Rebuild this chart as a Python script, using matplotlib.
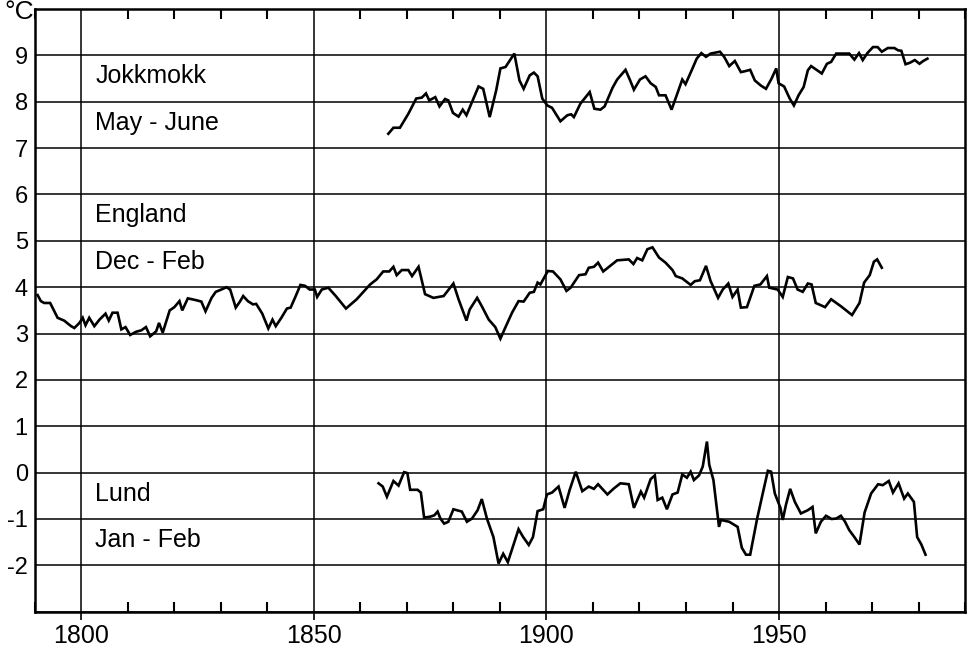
import matplotlib.pyplot as plt
from matplotlib.ticker import MultipleLocator

plt.rcParams['font.family'] = ['Liberation Sans', 'DejaVu Sans']
plt.rcParams['axes.unicode_minus'] = False

# Jokkmokk, May-June
jok_years = [1866.0, 1867.1, 1868.5, 1870.3, 1872.0, 1873.2, 1874.1, 1874.8, 1876.1, 1877.0,
             1878.2, 1878.9, 1879.9, 1881.1, 1882.0, 1882.8, 1885.4, 1886.4, 1887.8, 1889.2,
             1890.1, 1891.2, 1893.1, 1894.2, 1895.1, 1896.4, 1897.3, 1898.1, 1899.1, 1900.2,
             1901.2, 1903.0, 1904.5, 1905.3, 1905.9, 1907.3, 1909.3, 1910.3, 1911.6, 1912.5,
             1914.2, 1915.2, 1917.0, 1918.0, 1918.8, 1920.1, 1921.3, 1922.4, 1923.5, 1924.2,
             1925.6, 1926.9, 1928.0, 1929.2, 1929.9, 1931.4, 1932.3, 1933.3, 1934.3, 1935.3,
             1937.3, 1938.2, 1939.3, 1940.5, 1941.8, 1942.7, 1943.8, 1944.8, 1946.1, 1947.2,
             1948.4, 1949.4, 1949.9, 1951.1, 1952.3, 1953.2, 1954.2, 1955.3, 1956.2, 1956.9,
             1958.2, 1959.2, 1960.3, 1961.2, 1962.3, 1965.1, 1966.2, 1967.2, 1968.0, 1969.0,
             1970.2, 1971.2, 1972.1, 1973.4, 1974.8, 1975.6, 1976.3, 1977.2, 1978.1, 1979.2,
             1980.2, 1981.0, 1981.9]
jok_temp = [7.31, 7.44, 7.44, 7.74, 8.07, 8.09, 8.18, 8.03, 8.10, 7.90,
            8.06, 8.03, 7.76, 7.68, 7.83, 7.71, 8.33, 8.28, 7.67, 8.25,
            8.72, 8.75, 9.04, 8.46, 8.28, 8.57, 8.63, 8.55, 8.07, 7.92,
            7.87, 7.58, 7.71, 7.73, 7.67, 7.96, 8.21, 7.85, 7.83, 7.90,
            8.30, 8.48, 8.69, 8.46, 8.26, 8.48, 8.55, 8.40, 8.32, 8.14,
            8.14, 7.83, 8.14, 8.48, 8.38, 8.72, 8.93, 9.05, 8.97, 9.04,
            9.08, 8.97, 8.77, 8.88, 8.64, 8.66, 8.69, 8.46, 8.35, 8.28,
            8.50, 8.72, 8.40, 8.33, 8.07, 7.92, 8.14, 8.32, 8.68, 8.77,
            8.68, 8.61, 8.82, 8.86, 9.04, 9.04, 8.91, 9.05, 8.90, 9.05,
            9.18, 9.18, 9.08, 9.16, 9.16, 9.11, 9.10, 8.81, 8.84, 8.90,
            8.82, 8.88, 8.93]

# England, Dec-Feb
eng_years = [1790.6, 1791.3, 1792.0, 1793.3, 1794.9, 1796.3, 1797.8, 1798.5, 1799.6, 1800.3,
             1800.9, 1801.7, 1802.8, 1803.9, 1805.2, 1805.9, 1806.7, 1807.8, 1808.6, 1809.5,
             1810.5, 1811.8, 1812.9, 1813.9, 1814.8, 1816.1, 1816.7, 1817.5, 1819.0, 1820.0,
             1821.1, 1821.7, 1822.9, 1824.7, 1825.8, 1826.7, 1828.0, 1828.9, 1830.1, 1831.2,
             1832.0, 1833.2, 1834.1, 1834.8, 1835.8, 1836.9, 1837.6, 1838.9, 1840.2, 1841.1,
             1841.8, 1843.0, 1844.2, 1845.0, 1846.1, 1847.1, 1848.1, 1849.1, 1850.2, 1850.7,
             1851.7, 1853.1, 1854.7, 1856.9, 1859.2, 1862.1, 1863.5, 1864.9, 1866.2, 1867.1,
             1867.8, 1868.9, 1870.3, 1871.1, 1872.5, 1873.9, 1875.7, 1877.9, 1880.0, 1881.1,
             1882.8, 1883.5, 1885.1, 1886.1, 1887.6, 1889.0, 1890.1, 1891.2, 1892.6, 1894.0,
             1895.1, 1896.4, 1897.3, 1898.1, 1898.7, 1900.3, 1901.4, 1903.0, 1904.3, 1905.2,
             1907.0, 1908.4, 1909.1, 1910.2, 1911.1, 1912.2, 1915.2, 1917.7, 1918.7, 1919.5,
             1920.6, 1921.7, 1922.8, 1923.5, 1924.2, 1925.6, 1927.1, 1927.8, 1929.2, 1931.0,
             1931.9, 1933.0, 1934.3, 1935.3, 1936.9, 1937.9, 1939.1, 1940.0, 1941.1, 1941.8,
             1943.1, 1944.7, 1946.0, 1947.4, 1947.9, 1949.7, 1950.8, 1951.9, 1953.0, 1954.0,
             1955.1, 1956.2, 1957.0, 1957.9, 1959.9, 1961.2, 1963.3, 1965.7, 1967.3, 1968.3,
             1969.5, 1970.4, 1971.1, 1972.1]
eng_temp = [3.83, 3.70, 3.66, 3.66, 3.34, 3.28, 3.16, 3.12, 3.23, 3.34,
            3.18, 3.34, 3.16, 3.30, 3.43, 3.28, 3.45, 3.45, 3.09, 3.14,
            2.97, 3.04, 3.07, 3.14, 2.94, 3.05, 3.23, 3.02, 3.50, 3.57,
            3.70, 3.50, 3.76, 3.72, 3.69, 3.48, 3.77, 3.90, 3.95, 4.00,
            3.95, 3.56, 3.69, 3.81, 3.70, 3.63, 3.64, 3.43, 3.11, 3.30,
            3.16, 3.34, 3.54, 3.56, 3.81, 4.05, 4.03, 3.95, 3.95, 3.79,
            3.95, 3.99, 3.81, 3.54, 3.74, 4.06, 4.17, 4.34, 4.34, 4.44,
            4.26, 4.37, 4.37, 4.24, 4.44, 3.85, 3.77, 3.81, 4.08, 3.74,
            3.28, 3.52, 3.77, 3.59, 3.30, 3.14, 2.89, 3.14, 3.45, 3.70,
            3.69, 3.88, 3.90, 4.10, 4.06, 4.35, 4.34, 4.17, 3.92, 3.99,
            4.26, 4.28, 4.42, 4.44, 4.53, 4.34, 4.58, 4.60, 4.50, 4.63,
            4.58, 4.82, 4.86, 4.75, 4.64, 4.53, 4.37, 4.24, 4.19, 4.05,
            4.13, 4.15, 4.46, 4.13, 3.77, 3.95, 4.08, 3.79, 3.95, 3.56,
            3.57, 4.03, 4.06, 4.24, 3.99, 3.95, 3.79, 4.22, 4.19, 3.95,
            3.90, 4.08, 4.06, 3.66, 3.57, 3.74, 3.59, 3.40, 3.66, 4.10,
            4.26, 4.55, 4.60, 4.42]

# Lund, Jan-Feb
lund_years = [1863.9, 1864.8, 1865.7, 1867.1, 1868.2, 1869.4, 1870.1, 1870.7, 1872.3, 1873.0,
              1873.7, 1875.0, 1875.9, 1876.6, 1877.2, 1878.0, 1878.9, 1880.0, 1881.8, 1882.9,
              1884.0, 1885.2, 1886.1, 1887.2, 1888.6, 1889.7, 1890.7, 1891.7, 1893.0, 1894.0,
              1895.0, 1896.2, 1897.1, 1898.1, 1899.3, 1900.1, 1901.2, 1902.6, 1903.9, 1905.0,
              1906.3, 1907.7, 1909.1, 1910.2, 1911.1, 1913.1, 1914.5, 1915.9, 1917.7, 1918.8,
              1920.3, 1921.0, 1922.4, 1923.3, 1923.9, 1924.9, 1925.9, 1927.1, 1928.2, 1929.2,
              1930.2, 1931.0, 1931.7, 1932.8, 1933.6, 1934.5, 1935.0, 1935.9, 1937.1, 1937.5,
              1939.3, 1941.1, 1942.0, 1942.9, 1943.8, 1945.3, 1946.5, 1947.6, 1948.3, 1949.1,
              1950.3, 1950.8, 1951.5, 1952.4, 1953.4, 1954.7, 1956.2, 1957.2, 1957.9, 1959.0,
              1960.1, 1961.3, 1962.3, 1963.3, 1964.2, 1965.1, 1966.2, 1967.3, 1968.4, 1969.8,
              1971.3, 1972.3, 1973.6, 1974.5, 1975.7, 1976.9, 1977.7, 1979.0, 1979.7, 1980.6,
              1981.5]
lund_temp = [-0.23, -0.30, -0.52, -0.18, -0.28, 0.01, -0.01, -0.37, -0.37, -0.43,
             -0.97, -0.95, -0.92, -0.84, -0.99, -1.10, -1.06, -0.79, -0.84, -1.06,
             -0.99, -0.81, -0.57, -0.99, -1.39, -1.96, -1.75, -1.93, -1.53, -1.22,
             -1.39, -1.56, -1.39, -0.83, -0.79, -0.47, -0.43, -0.30, -0.76, -0.37,
             0.02, -0.40, -0.30, -0.35, -0.25, -0.47, -0.34, -0.23, -0.25, -0.76,
             -0.41, -0.54, -0.14, -0.06, -0.59, -0.54, -0.79, -0.47, -0.43, -0.04,
             -0.11, 0.02, -0.16, -0.06, 0.13, 0.67, 0.17, -0.16, -1.17, -1.02,
             -1.06, -1.17, -1.62, -1.77, -1.77, -0.99, -0.45, 0.04, 0.02, -0.45,
             -0.76, -1.02, -0.69, -0.35, -0.63, -0.88, -0.81, -0.74, -1.31, -1.06,
             -0.93, -1.00, -0.99, -0.93, -1.06, -1.24, -1.39, -1.55, -0.86, -0.45,
             -0.25, -0.27, -0.18, -0.43, -0.23, -0.56, -0.45, -0.63, -1.39, -1.55,
             -1.77]

labels = [("Jokkmokk", 8.55), ("May - June", 7.55), ("England", 5.55),
          ("Dec - Feb", 4.55), ("Lund", -0.45), ("Jan - Feb", -1.45)]

ytick_vals = list(range(-3, 11))
ytick_text = ["", "-2", "-1", "0", "1", "2", "3", "4", "5", "6", "7", "8", "9", ""]

fig = plt.figure(figsize=(9.67, 6.48), dpi=100)
ax = fig.add_axes([0.036, 0.056, 0.962, 0.930])

for yrs, vals in [(jok_years, jok_temp), (eng_years, eng_temp), (lund_years, lund_temp)]:
    ax.plot(yrs, vals, color='black', lw=1.9, solid_joinstyle='miter', zorder=3)

for text, yv in labels:
    ax.text(1803, yv, text, fontsize=18, va='center', ha='left')

ax.set_xlim(1790, 1990)
ax.set_ylim(-3, 10)
ax.set_xticks([1800, 1850, 1900, 1950])
ax.xaxis.set_minor_locator(MultipleLocator(10))
ax.set_yticks(ytick_vals)
ax.set_yticklabels(ytick_text)
ax.grid(True, which='major', color='black', lw=1.1)
ax.tick_params(axis='x', which='major', direction='out', length=6, width=1.2,
               labelsize=18, pad=3)
ax.tick_params(axis='x', which='minor', direction='in', length=7, width=1.5,
               top=True, bottom=True)
ax.tick_params(axis='y', length=0, labelsize=17, pad=5)
for sp in ax.spines.values():
    sp.set_linewidth(1.8)

fig.text(0.035, 1.0, "°C", fontsize=19, ha='right', va='top')

fig.savefig("out.png", dpi=100)
